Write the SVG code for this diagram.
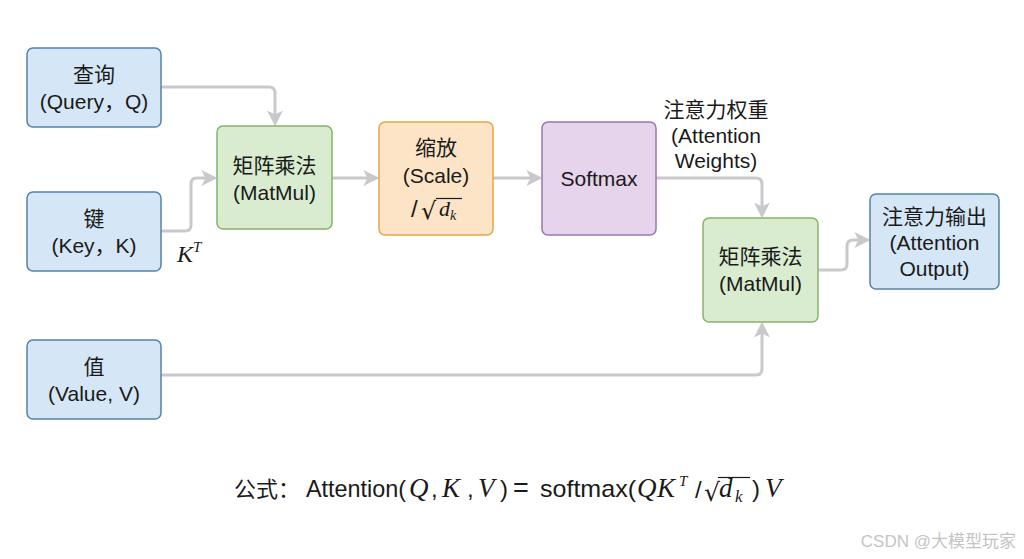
<svg xmlns="http://www.w3.org/2000/svg" width="1024" height="559" viewBox="0 0 1024 559">
<defs>
<style>
.box{stroke-width:1.5}
.blue{fill:#d5e7f6;stroke:#5683a6}
.green{fill:#d9ecd0;stroke:#86b46a}
.orange{fill:#fde4c6;stroke:#e0a844}
.purple{fill:#e5d4ec;stroke:#9c76ab}
.t{font-family:"Liberation Sans","Noto Sans CJK SC",sans-serif;font-size:21px;fill:#1a1a1a;text-anchor:middle}
.s{font-family:"Liberation Sans","Noto Sans CJK SC",sans-serif;font-size:24px;fill:#1a1a1a}
.m{font-family:"Liberation Serif",serif;font-style:italic;fill:#1a1a1a}
.r{font-family:"DejaVu Sans",sans-serif;fill:#1a1a1a}
.c{fill:none;stroke:#c9c9cd;stroke-width:3}
</style>
<marker id="arr" viewBox="0 0 10 10" refX="6" refY="5" markerWidth="16" markerHeight="16" markerUnits="userSpaceOnUse" orient="auto">
<path d="M0,0 L10,5 L0,10 L2.5,5 z" fill="#c9c9cd"/>
</marker>
</defs>
<rect width="1024" height="559" fill="#ffffff"/>

<g id="connectors">
<path class="c" d="M161,87 H269 Q275,87 275,93 V120" marker-end="url(#arr)"/>
<path class="c" d="M161,231 H185 Q191,231 191,225 V184 Q191,178 197,178 H211" marker-end="url(#arr)"/>
<path class="c" d="M332,178 H373" marker-end="url(#arr)"/>
<path class="c" d="M493,178 H536" marker-end="url(#arr)"/>
<path class="c" d="M656,178 H756 Q762,178 762,184 V212" marker-end="url(#arr)"/>
<path class="c" d="M818,270 H841 Q847,270 847,264 V246 Q847,240 853,240 H864" marker-end="url(#arr)"/>
<path class="c" d="M161,375 H756 Q762,375 762,369 V328" marker-end="url(#arr)"/>
<text class="m" x="177" y="262" font-size="24">K<tspan font-size="15" dy="-10">T</tspan></text>
<g id="weights-label">
<text class="t" x="716" y="117">注意力权重</text>
<text class="t" x="716" y="143">(Attention</text>
<text class="t" x="716" y="168">Weights)</text>
</g>
</g>

<g id="query">
<rect class="box blue" x="27" y="48" width="134" height="79" rx="6"/>
<text class="t" x="94" y="82">查询</text>
<text class="t" x="94" y="109">(Query，Q)</text>
</g>
<g id="key">
<rect class="box blue" x="27" y="192" width="134" height="79" rx="6"/>
<text class="t" x="94" y="226">键</text>
<text class="t" x="94" y="253">(Key，K)</text>
</g>
<g id="value">
<rect class="box blue" x="27" y="340" width="134" height="79" rx="6"/>
<text class="t" x="94" y="374">值</text>
<text class="t" x="94" y="401">(Value, V)</text>
</g>
<g id="matmul1">
<rect class="box green" x="217" y="126" width="115" height="103" rx="6"/>
<text class="t" x="274.5" y="173">矩阵乘法</text>
<text class="t" x="274.5" y="200">(MatMul)</text>
</g>
<g id="scale">
<rect class="box orange" x="379" y="122" width="114" height="113" rx="6"/>
<text class="t" x="436" y="155">缩放</text>
<text class="t" x="436" y="183">(Scale)</text>
<text class="s" x="411" y="217" font-size="22">/</text>
<text class="r" x="421" y="219" font-size="24">√</text>
<line x1="436" y1="198.5" x2="462" y2="198.5" stroke="#1a1a1a" stroke-width="1.2"/>
<text class="m" x="439" y="216" font-size="22">d<tspan font-size="14" dy="4">k</tspan></text>
</g>
<g id="softmax">
<rect class="box purple" x="542" y="122" width="114" height="113" rx="6"/>
<text class="t" x="599" y="186">Softmax</text>
</g>
<g id="matmul2">
<rect class="box green" x="703" y="218" width="115" height="104" rx="6"/>
<text class="t" x="760.5" y="264">矩阵乘法</text>
<text class="t" x="760.5" y="291">(MatMul)</text>
</g>
<g id="output">
<rect class="box blue" x="870" y="194" width="129" height="95" rx="6"/>
<text class="t" x="934.5" y="224">注意力输出</text>
<text class="t" x="934.5" y="250">(Attention</text>
<text class="t" x="934.5" y="276">Output)</text>
</g>

<g id="formula">
<text class="s" y="497"><tspan x="234" font-size="22">公式：</tspan><tspan x="306" textLength="100" lengthAdjust="spacingAndGlyphs">Attention(</tspan><tspan x="409" class="m" font-size="27">Q</tspan><tspan x="431">,</tspan><tspan x="442" class="m" font-size="27">K</tspan><tspan x="467">,</tspan><tspan x="478" class="m" font-size="27">V</tspan><tspan x="500">)</tspan><tspan x="513" font-size="27">=</tspan><tspan x="540" textLength="96" lengthAdjust="spacingAndGlyphs">softmax(</tspan><tspan x="637" class="m" font-size="27">Q</tspan><tspan x="657" class="m" font-size="27">K</tspan><tspan x="679" y="486" class="m" font-size="15">T</tspan><tspan x="695" y="498">/</tspan><tspan x="719" y="497" class="m" font-size="27">d</tspan><tspan x="735" y="502" class="m" font-size="17">k</tspan><tspan x="752" y="497">)</tspan><tspan x="765" class="m" font-size="27">V</tspan></text>
<text class="r" x="704" y="501" font-size="25">√</text>
<line x1="718" y1="477.5" x2="750" y2="477.5" stroke="#1a1a1a" stroke-width="1.2"/>
</g>

<text x="1016" y="547" text-anchor="end" font-family="'Liberation Sans','Noto Sans CJK SC',sans-serif" font-size="17" fill="#c4c4c4">CSDN @大模型玩家</text>
</svg>
